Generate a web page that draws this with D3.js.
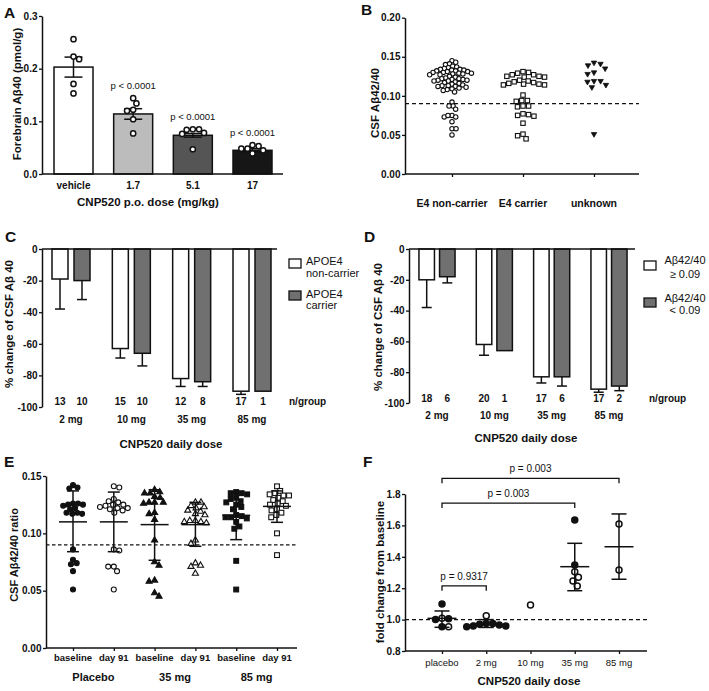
<!DOCTYPE html>
<html><head><meta charset="utf-8">
<script src="https://cdn.jsdelivr.net/npm/d3@7"></script>
<style>body{margin:0;background:#fff}svg{display:block}text{font-family:"Liberation Sans",Arial,sans-serif;fill:#111}</style>
</head><body>
<script>
// ---------- DATA ----------
// Panel A
const aCats = ["vehicle","1.7","5.1","17"];
const aMeans = [0.203,0.114,0.0735,0.045];
const aSem = [0.019,0.010,0.0035,0.003];
const aPoints = [
  [0.256,0.223,0.218,0.171,0.153],
  [0.144,0.134,0.122,0.120,0.104,0.077],
  [0.085,0.085,0.084,0.078,0.076,0.047],
  [0.055,0.053,0.048,0.048,0.045,0.039]
];
const aP = ["","p < 0.0001","p < 0.0001","p < 0.0001"];
// Panel B
const bCats = ["E4 non-carrier","E4 carrier","unknown"];
const bNon = [0.145,0.143,0.141,0.140,0.138,0.137,0.136,0.135,
  0.134,0.134,0.133,0.133,0.132,0.132,0.131,0.131,0.130,0.130,0.129,0.129,0.128,0.128,0.127,0.127,
  0.125,0.124,0.123,0.122,0.122,0.121,0.121,0.120,0.120,0.119,0.119,0.118,0.117,0.116,0.115,
  0.114,0.113,0.113,0.112,0.112,0.111,0.110,0.109,0.108,0.107,0.105,
  0.092,0.087,0.087,0.083,0.075,0.073,0.073,0.075,0.067,0.058,0.058,0.050];
const bCar = [0.131,0.129,0.127,0.125,0.124,0.124,0.125,0.127,0.130,
  0.119,0.117,0.115,0.114,0.114,0.115,0.116,0.118,0.120,
  0.101,0.094,0.093,0.094,0.087,0.086,0.087,0.077,0.075,0.074,0.076,0.065,0.051,0.049,0.045];
const bUnk = [0.1425,0.135,0.139,0.141,0.128,0.130,0.119,0.114,0.111,0.118,0.119,0.051];
const bThreshold = 0.09;
// Panel C
const cCats = ["2 mg","10 mg","35 mg","85 mg"];
const cNon = [-19,-63,-82,-90];
const cNonErr = [-38,-69,-87,-92];
const cCar = [-20,-66,-84,-90];
const cCarErr = [-32,-74,-87,null];
const cNonN = [13,15,12,17];
const cCarN = [10,10,8,1];
// Panel D
const dCats = ["2 mg","10 mg","35 mg","85 mg"];
const dHi = [-20,-62,-83,-91];
const dHiErr = [-38,-69,-87,-93];
const dLo = [-18,-66,-83,-89];
const dLoErr = [-22,null,-89,-92];
const dHiN = [18,20,17,17];
const dLoN = [6,1,6,2];
// Panel E
const eTicks = ["baseline","day 91","baseline","day 91","baseline","day 91"];
const eGroups = ["Placebo","35 mg","85 mg"];
const ePoints = [
  [0.142,0.139,0.140,0.126,0.126,0.125,0.125,0.124,0.122,0.121,0.118,0.117,0.117,0.118,0.086,0.077,0.074,0.073,0.067,0.051],
  [0.141,0.140,0.130,0.128,0.127,0.125,0.125,0.124,0.123,0.122,0.122,0.121,0.120,0.118,0.085,0.086,0.071,0.067,0.071,0.051],
  [0.138,0.136,0.135,0.135,0.132,0.131,0.127,0.127,0.126,0.127,0.118,0.112,0.117,0.094,0.072,0.075,0.059,0.058,0.045,0.048],
  [0.127,0.127,0.124,0.123,0.122,0.120,0.119,0.117,0.116,0.111,0.110,0.110,0.111,0.109,0.091,0.094,0.072,0.071,0.074,0.065],
  [0.136,0.135,0.135,0.134,0.131,0.130,0.128,0.127,0.125,0.123,0.121,0.116,0.115,0.114,0.114,0.113,0.110,0.106,0.104,0.076,0.051],
  [0.141,0.137,0.135,0.134,0.133,0.133,0.131,0.129,0.128,0.126,0.125,0.124,0.121,0.120,0.118,0.116,0.114,0.100,0.081]
];
const eMean = [0.110,0.110,0.1076,0.1076,0.1157,0.1235];
const eSdLo = [0.084,0.084,0.0765,0.0887,0.0945,0.1096];
const eSdHi = [0.137,0.136,0.138,0.127,0.136,0.137];
// Panel F
const fCats = ["placebo","2 mg","10 mg","35 mg","85 mg"];
const fFilled = [[1.10,1.00,1.005,0.955],[0.975,0.965,0.955,0.96,0.97,0.975,0.96],[],[1.634,1.348],[]];
const fOpen = [[1.008,0.955],[1.025],[1.093],[1.305,1.246,1.27,1.214],[1.609,1.316]];
const fMean = [1.008,0.975,null,1.337,1.464];
const fSdLo = [0.951,0.95,null,1.184,1.257];
const fSdHi = [1.055,1.00,null,1.486,1.673];
const fBrackets = [["placebo","85 mg","p = 0.003"],["placebo","35 mg","p = 0.003"],["placebo","2 mg","p = 0.9317"]];
const fBracketLevel = [1.90,1.742,1.215];

// ---------- HELPERS ----------
const svg = d3.select("body").append("svg").attr("width",709).attr("height",691);
function beeswarm(values, y, diam, maxHalf){
  let d = diam;
  for(let att=0; att<8; att++){
    const order = values.map((v,i)=>({v,i,y:y(v)})).sort((a,b)=>b.v-a.v);
    const placed=[]; let ok=true; let side=1;
    for(const p of order){
      const near = placed.filter(q=>Math.abs(q.y-p.y)<d);
      const cands=[0];
      near.forEach(q=>{const dx=Math.sqrt(d*d-(q.y-p.y)**2); cands.push(q.x+dx,q.x-dx);});
      cands.sort((a,b)=>(Math.abs(a)-Math.abs(b))||((b-a)*side));
      let best=0;
      for(const c of cands){ if(near.every(q=>(q.x-c)**2+(q.y-p.y)**2>=d*d-1e-6)){best=c;break;} }
      if(Math.abs(best)>maxHalf) ok=false;
      if(best!==0) side=-side;
      p.x=best; placed.push(p);
    }
    if(ok||att===7) return placed.sort((a,b)=>a.i-b.i);
    d*=0.9;
  }
}
function styleAxis(g, size, bold){
  g.selectAll("path.domain").attr("stroke","#111").attr("stroke-width",1.5);
  g.selectAll(".tick line").attr("stroke","#111").attr("stroke-width",1.3);
  g.selectAll(".tick text").attr("font-size",size).attr("font-weight",bold?"bold":"normal")
   .attr("font-family",'"Liberation Sans",Arial,sans-serif').attr("fill","#111");
}
function yAxis(g, x, scale, vals, fmt){
  const a = g.append("g").attr("transform",`translate(${x},0)`)
    .call(d3.axisLeft(scale).tickValues(vals).tickFormat(fmt).tickSize(3).tickPadding(1.5).tickSizeOuter(0));
  styleAxis(a,10,true); return a;
}
function hline(g,x1,x2,y,w,dash){const l=g.append("line").attr("x1",x1).attr("x2",x2).attr("y1",y).attr("y2",y).attr("stroke","#111").attr("stroke-width",w||1.5);if(dash)l.attr("stroke-dasharray",dash);return l;}
function vline(g,x,y1,y2,w){return g.append("line").attr("x1",x).attr("x2",x).attr("y1",y1).attr("y2",y2).attr("stroke","#111").attr("stroke-width",w||1.5);}
function txt(g,x,y,s,size,opt){opt=opt||{};const t=g.append("text").attr("x",x).attr("y",y).attr("font-size",size)
  .attr("font-weight",opt.bold?"bold":"normal").attr("text-anchor",opt.anchor||"middle").text(s);
  if(opt.rot) t.attr("transform",`rotate(-90,${x},${y})`);return t;}
function letter(x,y,s){txt(svg,x,y,s,15.5,{bold:true,anchor:"start"});}
function mark(g,shape,x,y,filled,sz,sw){
  if(shape==="circle") g.append("circle").attr("cx",x).attr("cy",y).attr("r",sz).attr("fill",filled?"#111":"#fff").attr("stroke","#111").attr("stroke-width",sw);
  else if(shape==="square") g.append("rect").attr("x",x-sz).attr("y",y-sz).attr("width",2*sz).attr("height",2*sz).attr("fill",filled?"#111":"#fff").attr("stroke","#111").attr("stroke-width",sw);
  else { const a = sz*sz*2.6; g.append("path").attr("d",d3.symbol(d3.symbolTriangle,a)()).attr("transform",`translate(${x},${y})${shape==="down"?" rotate(180)":""}`)
      .attr("fill",filled?"#111":"#fff").attr("stroke","#111").attr("stroke-width",sw).attr("stroke-linejoin","miter"); }
}

// ---------- PANEL A ----------
{
  const g = svg.append("g");
  const y = d3.scaleLinear().domain([0,0.3]).range([174,16]);
  const x = d3.scalePoint().domain(aCats).range([73.5,252.5]);
  const bw = 39, fills=["#ffffff","#bcbcbc","#555555","#161616"];
  aCats.forEach((c,i)=>{
    g.append("rect").attr("x",x(c)-bw/2).attr("y",y(aMeans[i])).attr("width",bw).attr("height",y(0)-y(aMeans[i]))
      .attr("fill",fills[i]).attr("stroke","#111").attr("stroke-width",1.5);
  });
  aCats.forEach((c,i)=>{
    const lo=aMeans[i]-aSem[i], hi=aMeans[i]+aSem[i];
    vline(g,x(c),y(lo),y(hi),1.5);
    hline(g,x(c)-9,x(c)+9,y(hi),1.5);
    hline(g,x(c)-9,x(c)+9,y(lo),1.5);
  });
  aCats.forEach((c,i)=>{
    beeswarm(aPoints[i],y,6.2,16).forEach(p=>mark(g,"circle",x(c)+p.x,p.y,false,2.6,1.5));
    if(aP[i]) txt(g,x(c),y(d3.max(aPoints[i]))-9,aP[i],9.5);
  });
  yAxis(g,42,y,[0,0.1,0.2,0.3],d3.format(".1f"));
  hline(g,42,283,174,1.5);
  aCats.forEach(c=>txt(g,x(c),189,c,10,{bold:true}));
  txt(g,148,206,"CNP520 p.o. dose (mg/kg)",11.5,{bold:true});
  txt(g,20.5,94,"Forebrain Aβ40 (pmol/g)",11.5,{bold:true,rot:true});
  letter(4,18,"A");
}

// ---------- PANEL B ----------
{
  const g = svg.append("g");
  const y = d3.scaleLinear().domain([0,0.2]).range([174,17.7]);
  const x = d3.scalePoint().domain(bCats).range([452,594]);
  hline(g,405,639,y(bThreshold),1.4,"4,3");
  beeswarm(bNon,y,5.0,24).forEach(p=>mark(g,"circle",x(bCats[0])+p.x,p.y,false,2.2,1.1));
  beeswarm(bCar,y,5.6,24).forEach(p=>mark(g,"square",x(bCats[1])+p.x,p.y,false,2.2,1.1));
  beeswarm(bUnk,y,6.6,16).forEach(p=>mark(g,"down",x(bCats[2])+p.x,p.y,true,2.2,0.8));
  yAxis(g,405,y,[0,0.05,0.1,0.15,0.2],d3.format(".2f"));
  const xa = g.append("g").attr("transform","translate(0,174)").call(d3.axisBottom(x).tickSize(3).tickFormat(""));
  xa.select("path.domain").remove(); styleAxis(xa,10,true);
  hline(g,405,639,174,1.5);
  bCats.forEach(c=>txt(g,x(c),207,c,10.5,{bold:true}));
  txt(g,379,103,"CSF Aβ42/40",11.5,{bold:true,rot:true});
  letter(361,15,"B");
}

// ---------- PANELS C / D ----------
function groupedPanel(opts){
  const g = svg.append("g");
  const y = d3.scaleLinear().domain([-100,0]).range([opts.y100,249]);
  const x = d3.scalePoint().domain(opts.cats).range(opts.xr);
  const series=[[opts.s1,opts.e1,opts.n1,"#ffffff",-opts.off],[opts.s2,opts.e2,opts.n2,"#707070",opts.off]];
  series.forEach(([vals,errs,ns,fill,off])=>{
    opts.cats.forEach((c,i)=>{
      const cx=x(c)+off;
      if(errs[i]!==null){ vline(g,cx,y(vals[i]),y(errs[i]),1.5); hline(g,cx-5,cx+5,y(errs[i]),1.5); }
      g.append("rect").attr("x",cx-opts.bw/2).attr("y",y(0)).attr("width",opts.bw).attr("height",y(vals[i])-y(0))
        .attr("fill",fill).attr("stroke","#111").attr("stroke-width",1.5);
      txt(g,cx,opts.nY,String(ns[i]),10,{bold:true});
    });
  });
  yAxis(g,opts.ax,y,[-100,-80,-60,-40,-20,0],d=>String(d));
  hline(g,opts.ax,opts.axEnd,y(0),1.5);
  txt(g,opts.nx,opts.nY,"n/group",10,{bold:true,anchor:"start"});
  opts.cats.forEach(c=>txt(g,x(c),opts.tickY,c,10,{bold:true}));
  txt(g,opts.titleX,opts.titleY,"CNP520 daily dose",11.5,{bold:true});
  txt(g,opts.ytX,opts.ytY,"% change of CSF Aβ 40",11.5,{bold:true,rot:true});
  return g;
}
{
  const g = groupedPanel({cats:cCats,y100:407,xr:[71,252],off:11,bw:16,s1:cNon,e1:cNonErr,n1:cNonN,s2:cCar,e2:cCarErr,n2:cCarN,
    ax:42,axEnd:277,nY:404.5,nx:289,tickY:423,titleX:171,titleY:448,ytX:13,ytY:324});
  g.append("rect").attr("x",289).attr("y",259).attr("width",12).attr("height",9).attr("fill","#fff").attr("stroke","#111").attr("stroke-width",1.3);
  g.append("rect").attr("x",289).attr("y",291).attr("width",12).attr("height",9).attr("fill","#707070").attr("stroke","#111").attr("stroke-width",1.3);
  txt(g,306,265,"APOE4",11,{anchor:"start"}); txt(g,306,277,"non-carrier",11,{anchor:"start"});
  txt(g,306,298,"APOE4",11,{anchor:"start"}); txt(g,306,309,"carrier",11,{anchor:"start"});
  letter(5,242,"C");
}
{
  const g = groupedPanel({cats:dCats,y100:403,xr:[437,609],off:10.3,bw:15.5,s1:dHi,e1:dHiErr,n1:dHiN,s2:dLo,e2:dLoErr,n2:dLoN,
    ax:409,axEnd:635,nY:402,nx:649,tickY:419,titleX:526,titleY:442,ytX:382,ytY:327});
  g.append("rect").attr("x",644).attr("y",261).attr("width",12).attr("height",9).attr("fill","#fff").attr("stroke","#111").attr("stroke-width",1.3);
  g.append("rect").attr("x",644).attr("y",298).attr("width",12).attr("height",9).attr("fill","#707070").attr("stroke","#111").attr("stroke-width",1.3);
  txt(g,685,264,"Aβ42/40",11); txt(g,685,278,"≥ 0.09",11);
  txt(g,685,302,"Aβ42/40",11); txt(g,685,314,"< 0.09",11);
  letter(364,242,"D");
}

// ---------- PANEL E ----------
{
  const g = svg.append("g");
  const y = d3.scaleLinear().domain([0,0.15]).range([648,476]);
  const idx = d3.range(eTicks.length);
  const x = d3.scalePoint().domain(idx).range([73,277]);
  const shapes=["circle","circle","up","up","square","square"];
  const filled=[true,false,true,false,true,false];
  hline(g,46,297,y(0.09),1.2,"3.5,2.5");
  idx.forEach(i=>{
    beeswarm(ePoints[i],y,5.6,15).forEach(p=>mark(g,shapes[i],x(i)+p.x,p.y,filled[i],shapes[i]==="square"?2.4:2.5,1.1));
  });
  idx.forEach(i=>{
    vline(g,x(i),y(eSdLo[i]),y(eSdHi[i]),1.5);
    hline(g,x(i)-6,x(i)+6,y(eSdLo[i]),1.5);
    hline(g,x(i)-6,x(i)+6,y(eSdHi[i]),1.5);
    hline(g,x(i)-14,x(i)+14,y(eMean[i]),1.5);
  });
  yAxis(g,46,y,[0,0.05,0.1,0.15],d3.format(".2f"));
  const xa = g.append("g").attr("transform","translate(0,648)").call(d3.axisBottom(x).tickSize(3).tickFormat(""));
  xa.select("path.domain").remove(); styleAxis(xa,10,true);
  hline(g,46,297,648,1.5);
  idx.forEach(i=>txt(g,x(i),661,eTicks[i],9.5,{bold:true}));
  eGroups.forEach((s,k)=>txt(g,(x(2*k)+x(2*k+1))/2,681,s,11,{bold:true}));
  txt(g,17.5,555,"CSF Aβ42/40 ratio",11,{bold:true,rot:true});
  letter(4,467,"E");
}

// ---------- PANEL F ----------
{
  const g = svg.append("g");
  const y = d3.scaleLinear().domain([0.8,1.8]).range([651,494]);
  const x = d3.scalePoint().domain(fCats).range([442,619]);
  hline(g,405,647,y(1.0),1.3,"4,3");
  fCats.forEach((c,i)=>{
    const vals = fFilled[i].concat(fOpen[i]);
    const fl = fFilled[i].map(()=>true).concat(fOpen[i].map(()=>false));
    beeswarm(vals,y,6.6,20).forEach((p,k)=>mark(g,"circle",x(c)+p.x,p.y,fl[k],3.0,1.5));
  });
  fCats.forEach((c,i)=>{
    if(fMean[i]===null) return;
    vline(g,x(c),y(fSdLo[i]),y(fSdHi[i]),1.5);
    hline(g,x(c)-7.5,x(c)+7.5,y(fSdLo[i]),1.5);
    hline(g,x(c)-7.5,x(c)+7.5,y(fSdHi[i]),1.5);
    hline(g,x(c)-14.5,x(c)+14.5,y(fMean[i]),1.5);
  });
  fBrackets.forEach(([a,b,lab],k)=>{
    const yy = y(fBracketLevel[k]);
    g.append("path").attr("d",`M${x(a)},${yy+5}V${yy}H${x(b)}V${yy+5}`).attr("fill","none").attr("stroke","#111").attr("stroke-width",1.3);
    txt(g,(x(a)+x(b))/2,yy-6,lab,10);
  });
  yAxis(g,405,y,[0.8,1.0,1.2,1.4,1.6,1.8],d3.format(".1f"));
  const xa = g.append("g").attr("transform","translate(0,651)").call(d3.axisBottom(x).tickSize(3).tickFormat(""));
  xa.select("path.domain").remove(); styleAxis(xa,10,true);
  hline(g,405,647,651,1.5);
  fCats.forEach(c=>txt(g,x(c),666,c,9.5));
  txt(g,529,685,"CNP520 daily dose",11.5,{bold:true});
  txt(g,384,572,"fold change from baseline",11.5,{bold:true,rot:true});
  letter(363,467,"F");
}
</script>
</body></html>
